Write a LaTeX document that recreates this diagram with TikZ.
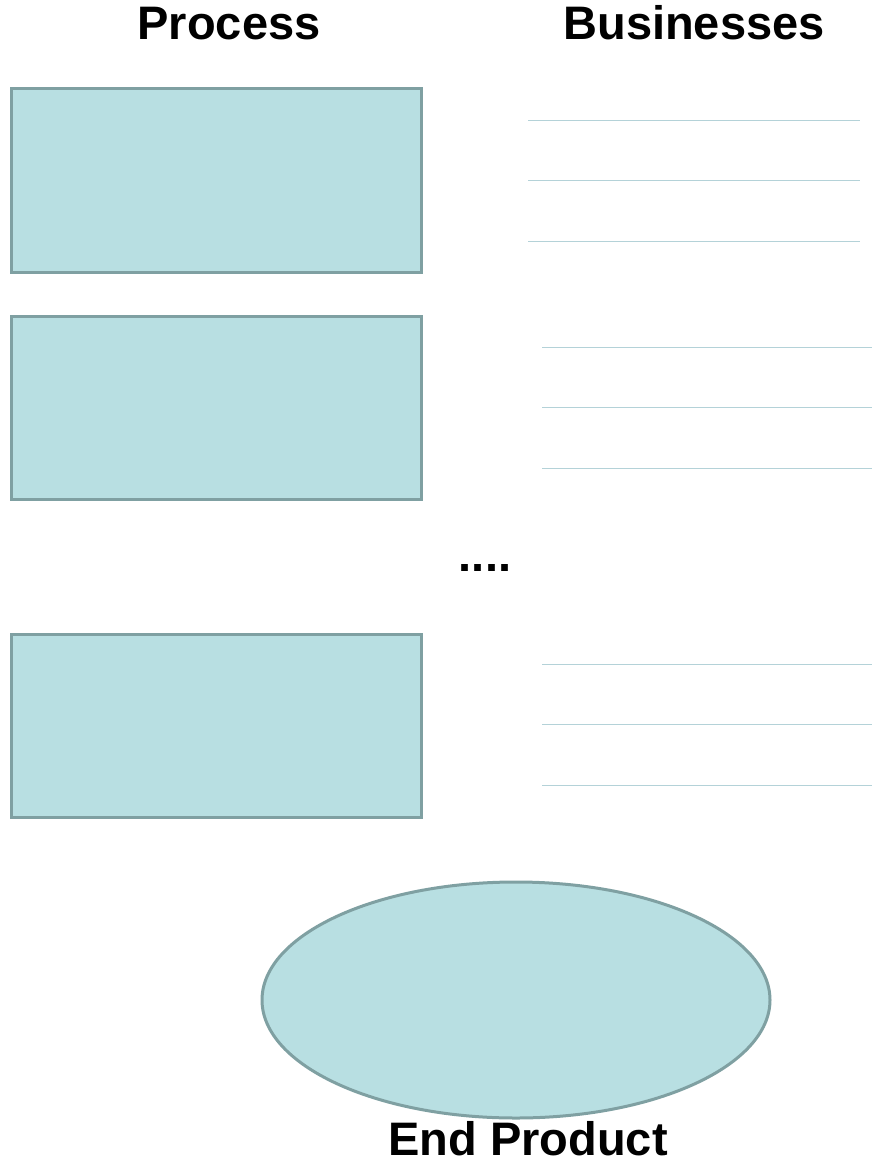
\documentclass[tikz,border=0pt]{standalone}
\usepackage{fontspec}
\setmainfont{Liberation Sans}
\usetikzlibrary{shapes.geometric}
\definecolor{boxfill}{HTML}{B8DFE2}
\definecolor{boxline}{HTML}{7FA0A2}
\definecolor{rule}{HTML}{B4D2D8}
\begin{document}
\begin{tikzpicture}[x=1pt,y=-1pt,
  procbox/.style={draw=boxline,fill=boxfill,line width=3pt,rectangle,inner sep=0pt},
  title/.style={anchor=base,font=\fontsize{47}{50}\selectfont\bfseries,inner sep=0pt},
  blank/.style={draw=rule,line width=1pt}]
\useasboundingbox[fill=white] (0,0) rectangle (873,1162);
\node[title] (tproc) at (229,39) {Process};
\node[title] (tbus) at (694,39) {Businesses};
\node[procbox,minimum width=410pt,minimum height=184pt] (p1) at (216,180) {};
\node[procbox,minimum width=410pt,minimum height=183pt] (p2) at (216,407.5) {};
\node[procbox,minimum width=410pt,minimum height=183pt] (p3) at (216,725.5) {};
\coordinate (a1) at (528,120); \coordinate (b1) at (860,120);
\coordinate (a2) at (528,180); \coordinate (b2) at (860,180);
\coordinate (a3) at (528,241); \coordinate (b3) at (860,241);
\coordinate (a4) at (542,347); \coordinate (b4) at (872,347);
\coordinate (a5) at (542,407); \coordinate (b5) at (872,407);
\coordinate (a6) at (542,468); \coordinate (b6) at (872,468);
\coordinate (a7) at (542,664); \coordinate (b7) at (872,664);
\coordinate (a8) at (542,724); \coordinate (b8) at (872,724);
\coordinate (a9) at (542,785); \coordinate (b9) at (872,785);
\foreach \i in {1,...,9} {\draw[blank] (a\i) -- (b\i);}
\node[title] (dots) at (485,571) {....};
\node[ellipse,draw=boxline,fill=boxfill,line width=3pt,minimum width=508pt,minimum height=236pt,inner sep=0pt] (end) at (516,1000) {};
\node[title] (tend) at (528,1155) {End Product};
\end{tikzpicture}
\end{document}
